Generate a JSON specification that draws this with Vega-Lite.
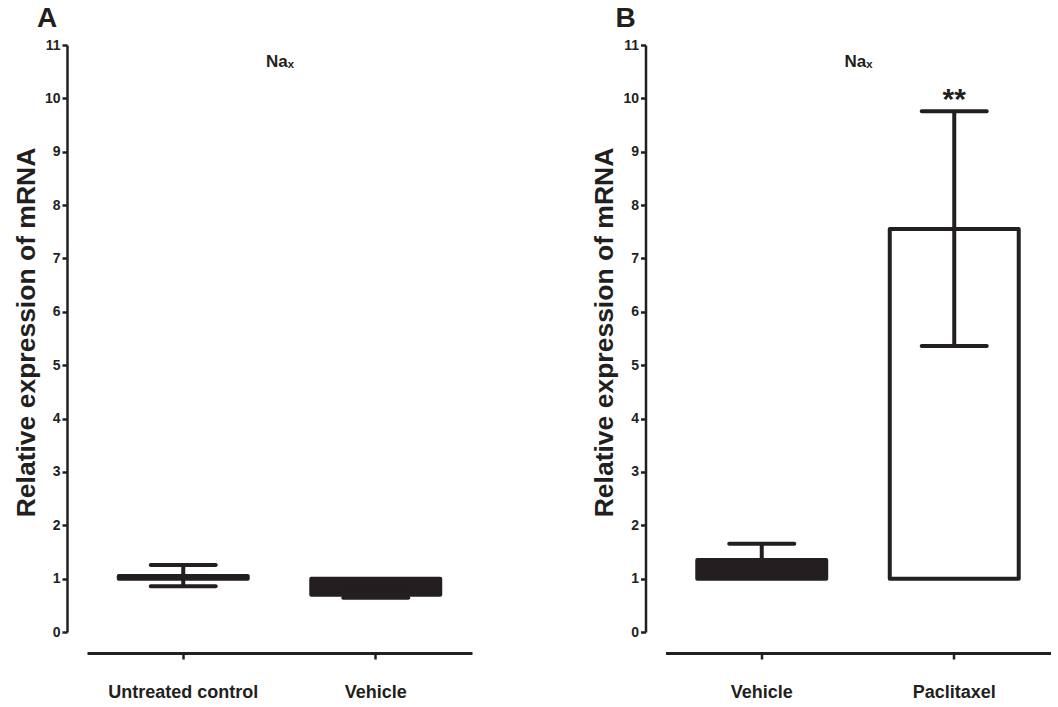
{
  "$schema": "https://vega.github.io/schema/vega-lite/v6.json",
  "background": "white",
  "padding": {"left": 13, "top": 5, "right": 0, "bottom": 0},
  "config": {
    "view": {"stroke": null},
    "font": "Liberation Sans",
    "axis": {"grid": false, "domainColor": "#231f20", "tickColor": "#231f20", "labelColor": "#231f20", "titleColor": "#231f20", "labelFont": "Liberation Sans", "titleFont": "Liberation Sans"}
  },
  "spacing": 119.5,
  "hconcat": [
    {
      "width": 385,
      "height": 587,
      "title": {"text": "A", "anchor": "start", "frame": "group", "dx": -50, "fontSize": 28, "fontWeight": "bold", "color": "#231f20", "offset": 5},
      "data": {"values": [
        {"group": "Untreated control", "mean": 1.05, "lo": 0.855, "hi": 1.255, "sig": ""},
        {"group": "Vehicle", "mean": 0.70, "lo": 0.64, "hi": 0.80, "sig": ""}
      ]},
      "resolve": {"axis": {"x": "independent"}},
      "layer": [
        {
          "mark": {"type": "bar", "stroke": "#231f20", "strokeWidth": 4, "strokeJoin": "round", "opacity": 1},
          "encoding": {
            "x": {"field": "group", "type": "nominal", "sort": null, "title": null,
                  "scale": {"paddingInner": 0.33, "paddingOuter": 0.165},
                  "axis": {"orient": "bottom", "offset": 21, "domainWidth": 3, "tickWidth": 2.5, "tickSize": 6, "labelAngle": 0, "labelFontSize": 18, "labelFontWeight": "bold", "labelPadding": 24}},
            "y": {"field": "mean", "type": "quantitative", "title": "Relative expression of mRNA",
                  "scale": {"domain": [0, 11], "nice": false},
                  "axis": {"offset": 20, "values": [0,1,2,3,4,5,6,7,8,9,10,11], "domainWidth": 2.5, "tickWidth": 2.5, "tickSize": 5, "labelFontSize": 14, "labelFontWeight": "bold", "labelPadding": 2, "titleFontSize": 26.5, "titleFontWeight": "bold", "titlePadding": 4, "titleY": 287}},
            "y2": {"datum": 1},
            "color": {"condition": {"test": "datum.group === 'Paclitaxel'", "value": "white"}, "value": "#231f20"}
          }
        },
        {
          "mark": {"type": "rule", "color": "#231f20", "strokeWidth": 4},
          "encoding": {
            "x": {"field": "group", "type": "nominal", "sort": null, "title": "Naₓ",
                  "axis": {"orient": "top", "domain": false, "ticks": false, "labels": false, "titleFontSize": 17, "titleFontWeight": "bold", "titleY": 21, "titleBaseline": "alphabetic"}},
            "y": {"field": "lo", "type": "quantitative", "title": "Relative expression of mRNA"},
            "y2": {"field": "hi"}
          }
        },
        {
          "mark": {"type": "tick", "color": "#231f20", "opacity": 1, "size": 69, "thickness": 4, "cornerRadius": 2},
          "encoding": {
            "x": {"field": "group", "type": "nominal", "sort": null, "axis": null},
            "y": {"field": "lo", "type": "quantitative", "title": "Relative expression of mRNA"}
          }
        },
        {
          "mark": {"type": "tick", "color": "#231f20", "opacity": 1, "size": 69, "thickness": 4, "cornerRadius": 2},
          "encoding": {
            "x": {"field": "group", "type": "nominal", "sort": null, "axis": null},
            "y": {"field": "hi", "type": "quantitative", "title": "Relative expression of mRNA"}
          }
        }
      ]
    },
    {
      "width": 385,
      "height": 587,
      "title": {"text": "B", "anchor": "start", "frame": "group", "dx": -50, "fontSize": 28, "fontWeight": "bold", "color": "#231f20", "offset": 5},
      "data": {"values": [
        {"group": "Vehicle", "mean": 1.35, "lo": 1.05, "hi": 1.655, "sig": ""},
        {"group": "Paclitaxel", "mean": 7.55, "lo": 5.36, "hi": 9.76, "sig": "**"}
      ]},
      "resolve": {"axis": {"x": "independent"}},
      "layer": [
        {
          "mark": {"type": "bar", "stroke": "#231f20", "strokeWidth": 4, "strokeJoin": "round", "opacity": 1},
          "encoding": {
            "x": {"field": "group", "type": "nominal", "sort": null, "title": null,
                  "scale": {"paddingInner": 0.33, "paddingOuter": 0.165},
                  "axis": {"orient": "bottom", "offset": 21, "domainWidth": 3, "tickWidth": 2.5, "tickSize": 6, "labelAngle": 0, "labelFontSize": 18, "labelFontWeight": "bold", "labelPadding": 24}},
            "y": {"field": "mean", "type": "quantitative", "title": "Relative expression of mRNA",
                  "scale": {"domain": [0, 11], "nice": false},
                  "axis": {"offset": 20, "values": [0,1,2,3,4,5,6,7,8,9,10,11], "domainWidth": 2.5, "tickWidth": 2.5, "tickSize": 5, "labelFontSize": 14, "labelFontWeight": "bold", "labelPadding": 2, "titleFontSize": 26.5, "titleFontWeight": "bold", "titlePadding": 4, "titleY": 287}},
            "y2": {"datum": 1},
            "color": {"condition": {"test": "datum.group === 'Paclitaxel'", "value": "white"}, "value": "#231f20"}
          }
        },
        {
          "mark": {"type": "rule", "color": "#231f20", "strokeWidth": 4},
          "encoding": {
            "x": {"field": "group", "type": "nominal", "sort": null, "title": "Naₓ",
                  "axis": {"orient": "top", "domain": false, "ticks": false, "labels": false, "titleFontSize": 17, "titleFontWeight": "bold", "titleY": 21, "titleBaseline": "alphabetic"}},
            "y": {"field": "lo", "type": "quantitative", "title": "Relative expression of mRNA"},
            "y2": {"field": "hi"}
          }
        },
        {
          "mark": {"type": "tick", "color": "#231f20", "opacity": 1, "size": 69, "thickness": 4, "cornerRadius": 2},
          "encoding": {
            "x": {"field": "group", "type": "nominal", "sort": null, "axis": null},
            "y": {"field": "lo", "type": "quantitative", "title": "Relative expression of mRNA"}
          }
        },
        {
          "mark": {"type": "tick", "color": "#231f20", "opacity": 1, "size": 69, "thickness": 4, "cornerRadius": 2},
          "encoding": {
            "x": {"field": "group", "type": "nominal", "sort": null, "axis": null},
            "y": {"field": "hi", "type": "quantitative", "title": "Relative expression of mRNA"}
          }
        },
        {
          "mark": {"type": "text", "color": "#231f20", "fontSize": 30, "fontWeight": "bold", "baseline": "alphabetic", "dy": -2},
          "encoding": {
            "x": {"field": "group", "type": "nominal", "sort": null, "axis": null},
            "y": {"field": "hi", "type": "quantitative", "title": "Relative expression of mRNA"},
            "text": {"field": "sig"}
          }
        }
      ]
    }
  ]
}
